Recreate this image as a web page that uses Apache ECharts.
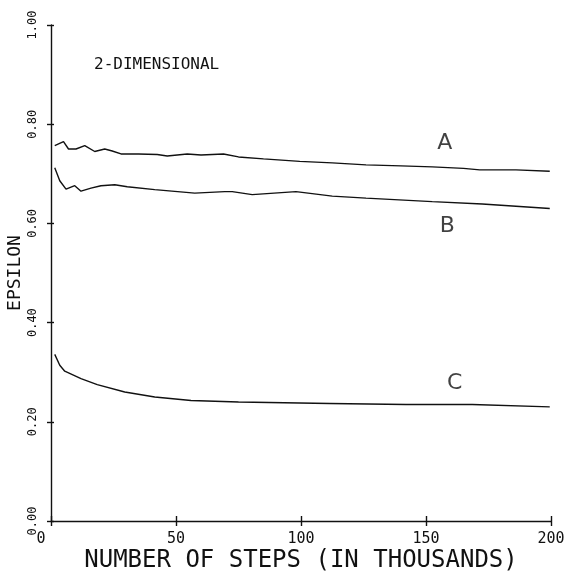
<!DOCTYPE html>
<html>
<head>
<meta charset="utf-8">
<script src="https://cdn.jsdelivr.net/npm/echarts@6/dist/echarts.min.js"></script>
<style>
html,body{margin:0;padding:0;background:#fff;}
#c{width:566px;height:571px;}
</style>
</head>
<body>
<div id="c"></div>
<script>
// Data
const xTicks = [0, 50, 100, 150, 200];
const yTicks = [0.0, 0.2, 0.4, 0.6, 0.8, 1.0];

const stepsA = [1.5, 5, 7, 10, 13.5, 17.5, 21.5, 24.5, 28, 35, 42.5, 46.5, 54.5, 60, 69, 75, 85, 99.5, 112.5, 126, 140, 152.5, 165, 171.5, 186, 199.5];
const epsA   = [0.757, 0.765, 0.750, 0.750, 0.757, 0.745, 0.750, 0.746, 0.740, 0.740, 0.739, 0.736, 0.740, 0.738, 0.740, 0.734, 0.730, 0.725, 0.722, 0.718, 0.716, 0.714, 0.711, 0.708, 0.708, 0.705];

const stepsB = [1.5, 3.5, 6, 9.5, 12, 16, 20, 25.5, 30.5, 41.5, 57.5, 69.5, 72.5, 80.5, 98, 112.5, 126, 152.5, 172.5, 199.5];
const epsB   = [0.712, 0.686, 0.669, 0.676, 0.665, 0.671, 0.676, 0.678, 0.674, 0.668, 0.661, 0.664, 0.664, 0.658, 0.664, 0.655, 0.651, 0.644, 0.639, 0.630];

const stepsC = [1.5, 3.5, 5.5, 12, 18.5, 29.5, 41.5, 56, 75, 111.5, 142, 168.5, 199.5];
const epsC   = [0.336, 0.314, 0.302, 0.287, 0.275, 0.260, 0.250, 0.243, 0.240, 0.237, 0.235, 0.235, 0.230];

const curveNames = ['A', 'B', 'C'];
const curveLabelX = [157.5, 158.5, 161.5];
const curveLabelY = [0.761, 0.594, 0.278];

const panelTitle = '2-DIMENSIONAL';
const xTitle = 'NUMBER OF STEPS (IN THOUSANDS)';
const yTitle = 'EPSILON';

const zip = (xs, ys) => xs.map((x, i) => [x, ys[i]]);
const MONO = '"DejaVu Sans Mono", "Liberation Mono", monospace';

const lineStyle = { color: '#111', width: 1.4 };

const chart = echarts.init(document.getElementById('c'), null, { renderer: 'canvas' });
chart.setOption({
  animation: false,
  backgroundColor: '#fff',
  title: {
    text: panelTitle,
    left: 89, top: 52,
    textStyle: { fontFamily: MONO, fontSize: 16, fontWeight: 'normal', color: '#111' }
  },
  grid: { left: 51, right: 15, top: 25, bottom: 50, containLabel: false, outerBoundsMode: 'none' },
  xAxis: [{
    type: 'value', min: 0, max: 200, interval: 50,
    name: xTitle, nameLocation: 'middle', nameGap: 28, nameMoveOverlap: false,
    nameTextStyle: { fontFamily: MONO, fontSize: 24, color: '#111' },
    axisLine: { show: true, lineStyle: { color: '#111', width: 1.4 } },
    axisTick: { show: true, length: 5, lineStyle: { color: '#111', width: 1.4 } },
    axisLabel: {
      margin: 11, fontFamily: MONO, fontSize: 15, color: '#111',
      formatter: v => v === 0 ? '{z|0}' : String(v),
      rich: { z: { fontFamily: MONO, fontSize: 15, color: '#111', padding: [0, 20, 0, 0] } }
    },
    splitLine: { show: false }
  }, {
    type: 'value', min: 0, max: 200, interval: 50, position: 'bottom',
    axisLine: { show: false },
    axisTick: { show: true, inside: true, length: 5, lineStyle: { color: '#111', width: 1.4 } },
    axisLabel: { show: false }, splitLine: { show: false }
  }],
  yAxis: [{
    type: 'value', min: 0, max: 1, interval: 0.2,
    name: yTitle, nameLocation: 'middle', nameGap: 27, nameRotate: 90, nameMoveOverlap: false,
    nameTextStyle: { fontFamily: MONO, fontSize: 18, color: '#111' },
    axisLine: { show: true, lineStyle: { color: '#111', width: 1.4 } },
    axisTick: { show: true, length: 4, lineStyle: { color: '#111', width: 1.4 } },
    axisLabel: {
      rotate: 90, margin: 12, fontFamily: MONO, fontSize: 12, color: '#111',
      formatter: v => v.toFixed(2)
    },
    splitLine: { show: false }
  }, {
    type: 'value', min: 0, max: 1, interval: 0.2, position: 'left',
    axisLine: { show: false },
    axisTick: { show: true, inside: true, length: 3, lineStyle: { color: '#111', width: 1.4 } },
    axisLabel: { show: false }, splitLine: { show: false }
  }],
  series: [
    { name: 'A', type: 'line', data: zip(stepsA, epsA), showSymbol: false, lineStyle },
    { name: 'B', type: 'line', data: zip(stepsB, epsB), showSymbol: false, lineStyle },
    { name: 'C', type: 'line', data: zip(stepsC, epsC), showSymbol: false, lineStyle },
    {
      name: 'labels', type: 'scatter', symbolSize: 0,
      data: curveNames.map((n, i) => ({ name: n, value: [curveLabelX[i], curveLabelY[i]] })),
      label: {
        show: true, position: 'inside', formatter: p => p.name,
        fontFamily: '"DejaVu Sans", sans-serif', fontSize: 22, color: '#111'
      }
    }
  ]
});
</script>
</body>
</html>
